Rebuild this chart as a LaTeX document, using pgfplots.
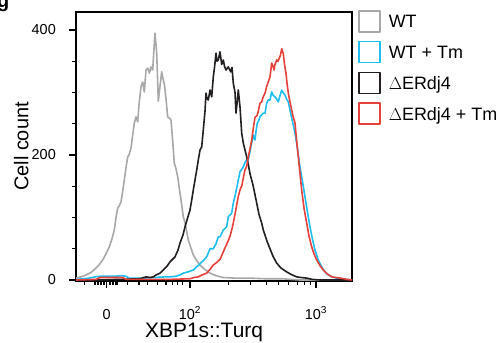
\documentclass[border=0pt]{standalone}
\usepackage{fontspec}
\setmainfont{Liberation Sans}
\usepackage{pgfplots}
\pgfplotsset{compat=1.18}
\definecolor{cgray}{HTML}{A8A8A8}
\definecolor{cblue}{HTML}{1EBEF0}
\definecolor{cblack}{HTML}{231F20}
\definecolor{cred}{HTML}{E5403A}
\begin{document}
\begin{tikzpicture}
\useasboundingbox (0,0) rectangle (501bp,343bp);
\node[anchor=base west, font=\fontsize{20}{20}\selectfont\bfseries, inner sep=0pt] at (-3bp,335bp) {g};
\begin{axis}[
  scale only axis, width=276bp, height=269bp,
  at={(76bp,62bp)}, anchor=south west,
  xmin=76, xmax=352, ymin=-1.6, ymax=428.8,
  axis line style={line width=1.3bp},
  xtick pos=bottom, ytick pos=left,
  tick align=outside, major tick length=7bp, minor tick length=4bp,
  tick style={line width=1.1bp, black},
  xtick={106.7,190,316},
  xticklabels={0,10\textsuperscript{2},10\textsuperscript{3}},
  minor xtick={84.3,95,98,101,104,110,113,116,117.7,127.7,139,147.7,157.7,166,172.7,177.7,182.7,228.3,250.4,266.3,278.6,288.6,297.1,304.5,310.9},
  ytick={0,200,400}, minor ytick={50,100,150,250,300,350},
  /pgf/number format/assume math mode=true,
  ticklabel style={font=\fontsize{14.5}{14.5}\selectfont, inner sep=0pt},
  xticklabel style={anchor=base, yshift=-31bp},
  yticklabel style={anchor=east, xshift=-13bp},
  xlabel={XBP1s::Turq}, ylabel={Cell count},
  label style={font=\fontsize{20}{20}\selectfont},
  xlabel style={at={(axis description cs:0.464,0)}, anchor=base, yshift=-56bp, inner sep=0pt, font=\fontsize{21}{21}\selectfont},
  ylabel style={at={(axis description cs:0,0.5)}, anchor=base, yshift=47.7bp, inner sep=0pt},
  legend style={draw=none, fill=none, inner sep=0pt, outer sep=0pt,
    at={(axis description cs:1,1)}, anchor=north west, xshift=6.25bp, yshift=2bp,
    row sep=8.3bp, font=\fontsize{18}{18}\selectfont, nodes={inner sep=0pt},
    cells={anchor=base west}},
  /tikz/every odd column/.style={column sep=8bp},
  legend image code/.code={\draw[#1, line width=1.5bp] (0bp,-4bp) rectangle (21bp,17bp);},
  every axis plot/.append style={line width=1.6bp, line join=round},
]
\addplot[cgray] coordinates {
(76,3)(81,5)(86,8)(91,12)(96,19)(99,24)(102.7,32)(106,42)(109.3,53)(112,66)(114.3,80)(116,100)(117.7,115)(119,118)(121,125)(122.7,142)(124.3,160)(126,180)(127.7,197)(129,200)(131,211)(132.7,232)(134.3,251)(136,261)(137.7,253)(139,280)(141,309)(142.7,317)(144.3,301)(146,336)(147.7,339)(149.3,331)(151,341)(152.7,336)(153.8,365)(155,395)(156.7,363)(158.3,286)(160,310)(161.7,333)(163,322)(164.5,312)(166,290)(167.7,261)(169.5,259)(171,256)(172.7,222)(174.3,187)(176,178)(177.7,165)(179,150)(180,139)(181.7,120)(183.3,101)(185,92)(186.7,78)(188.3,64)(190.8,52)(193.3,40)(196.7,31)(200,24)(204,18)(210,11)(216,7)(223,4)(235,3)(250,3)(265,2)(283,2)(290,1)(300,0)(352,0)
};
\addlegendentry{WT}
\addplot[cblue] coordinates {
(76,1)(83,2)(89,3)(95,5)(100,6)(106,6)(115,6)(122,7)(126,6)(129,3)(136,3)(143,3)(155,4)(165,5)(170,5)(176,6)(180,8)(183.3,11)(188,13)(193.3,16)(196.7,21)(200,26)(203.3,31)(206.7,37)(210,50)(213.3,50)(216,58)(218.3,69)(220,69)(223.3,80)(226.7,85)(228.3,101)(231.7,107)(233.3,123)(235,134)(236.7,147)(238.3,160)(240,173)(243,180)(245,188)(246.7,192)(248.3,192)(250,205)(251.5,218)(253.3,232)(255,224)(256.2,240)(257.3,251)(258.7,255)(260,261)(261.5,264)(263.3,267)(265,267)(266.7,283)(268.3,288)(270,288)(271.7,301)(273,296)(275,293)(276.5,290)(278.3,285)(280,295)(281.7,304)(283,300)(285,296)(286.5,290)(288.3,285)(290,272)(291.7,259)(293.3,248)(295,235)(297.5,210)(300,181)(302.5,157)(305,133)(307.5,108)(310,85)(312.5,65)(315,48)(318,33)(321.7,21)(325,13)(328.3,8)(332,5)(336.7,3)(342,2)(346.7,1)(352,0)
};
\addlegendentry{WT + Tm}
\addplot[cblack] coordinates {
(76,0)(100,0)(120,1)(140,2)(146,5)(150,4)(153.3,5)(156,8)(160,11)(163.3,16)(167,22)(170,29)(172.5,33)(175,37)(178,48)(180,59)(183,72)(185,85)(187,96)(188.5,104)(190,112)(191.7,128)(193.3,144)(195,160)(196.7,176)(198.3,192)(200,208)(201.7,213)(203.3,240)(205,270)(206,299)(207,290)(208.3,288)(210,304)(211.7,293)(213.3,325)(214.5,340)(216,363)(217,350)(218.3,352)(220,365)(221.7,345)(223.3,352)(224.5,342)(226,336)(228.3,341)(230.7,333)(232,340)(233.3,315)(235,300)(236,267)(237.2,285)(238.3,304)(240,277)(241.7,235)(243.3,219)(245,208)(246.7,197)(248.3,185)(250,170)(253,152)(254.8,138)(256.7,123)(259,105)(261.7,91)(263.3,80)(265,72)(267,62)(270,50)(273,38)(276.7,27)(281,19)(286.7,13)(291,9)(296.7,5)(301,4)(306.7,3)(312,1)(320,0)(352,0)
};
\addlegendentry{$\Delta$ERdj4}
\addplot[cred] coordinates {
(76,0)(96,1)(100,4)(106,4)(115,4)(122.7,4)(126,1)(150,1)(170,1)(190,2)(194,4)(198.3,5)(202,8)(206.7,11)(210,17)(213.3,24)(216.7,28)(220,33)(223.3,45)(226,55)(228,62)(230,70)(232.5,85)(235,105)(237,123)(238.5,135)(240,144)(242,152)(243.5,165)(245,176)(246.7,182)(248.3,197)(250,210)(251.7,224)(253.5,245)(255,260)(257,263)(258.3,270)(260,283)(261.7,285)(263,292)(265,299)(266.7,310)(268.3,317)(270,325)(271.7,347)(273,342)(274,336)(275,345)(276.7,352)(278,350)(279.3,355)(280.5,360)(281.7,370)(283.3,362)(284.5,345)(286,331)(287,315)(288.3,299)(290,285)(291.7,272)(293,262)(295,251)(296.5,225)(298.3,197)(300,170)(301.7,144)(304,115)(306.7,91)(309,70)(311.7,53)(314,42)(316.7,32)(320,23)(323.3,16)(327,10)(331.7,5)(336,4)(340,3)(344,2)(346.7,1)(352,0)
};
\addlegendentry{$\Delta$ERdj4 + Tm}
\end{axis}
\end{tikzpicture}
\end{document}
